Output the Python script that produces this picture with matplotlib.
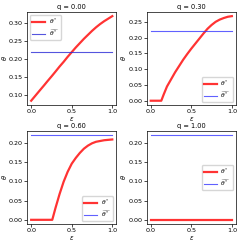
import numpy as np
import matplotlib
matplotlib.use('Agg')
import matplotlib.pyplot as plt

# values
eps = np.array([0.0, 0.1, 0.13, 0.16, 0.2, 0.26, 0.3, 0.35, 0.4, 0.45, 0.5,
                0.55, 0.6, 0.65, 0.7, 0.75, 0.8, 0.85, 0.9, 0.95, 1.0])
q_values = [0.00, 0.30, 0.60, 1.00]
theta_q0 = np.array([0.085, 0.112, 0.120, 0.128, 0.139, 0.155, 0.166, 0.180, 0.193, 0.207, 0.220,
                     0.233, 0.245, 0.257, 0.268, 0.279, 0.289, 0.298, 0.306, 0.313, 0.320])
theta_q3 = np.array([0.0, 0.0, 0.0, 0.020, 0.045, 0.072, 0.090, 0.110, 0.130, 0.148, 0.165,
                     0.181, 0.197, 0.213, 0.228, 0.240, 0.250, 0.257, 0.262, 0.266, 0.268])
theta_q6 = np.array([0.0, 0.0, 0.0, 0.0, 0.0, 0.0, 0.031, 0.067, 0.099, 0.125, 0.146,
                     0.161, 0.174, 0.185, 0.193, 0.199, 0.203, 0.205, 0.207, 0.208, 0.209])
theta_q10 = np.zeros(len(eps))
theta_hat = 0.22

curves = [theta_q0, theta_q3, theta_q6, theta_q10]
legend_loc = ['upper left', 'lower right', 'lower right', 'center right']

plt.rcParams['font.size'] = 4.6
fig, axes = plt.subplots(2, 2, figsize=(2.4, 2.43), dpi=100)
fig.subplots_adjust(left=0.113, right=0.983, top=0.951, bottom=0.078,
                    wspace=0.34, hspace=0.28)

for i, ax in enumerate(axes.flat):
    ax.plot(eps, curves[i], color='red', lw=1.6, alpha=0.8, label=r'$\theta^*$')
    hat_color = '#2b2bd6' if i == 0 else '#3a3aff'
    ax.plot([0, 1], [theta_hat, theta_hat], color=hat_color, lw=0.8, alpha=0.8,
            label=r'$\widehat{\theta^*}$')
    ax.set_title('q = %.2f' % q_values[i], fontsize=4.8, pad=2)
    ax.set_xlabel(r'$\epsilon$', fontsize=4.8, labelpad=0.5)
    ax.set_ylabel(r'$\theta$', fontsize=4.8, labelpad=0)
    ax.set_xticks([0.0, 0.5, 1.0])
    ax.tick_params(labelsize=4.6, length=2, pad=1, width=0.5)
    for s in ax.spines.values():
        s.set_linewidth(0.5)
    ax.legend(loc=legend_loc[i], fontsize=4.3, handlelength=2.2, borderpad=0.3,
              labelspacing=0.2, handletextpad=0.6, framealpha=0.8)

axes[0, 0].set_yticks([0.10, 0.15, 0.20, 0.25, 0.30])
axes[0, 1].set_yticks([0.00, 0.05, 0.10, 0.15, 0.20, 0.25])
for ax in [axes[1, 0], axes[1, 1]]:
    ax.set_yticks([0.00, 0.05, 0.10, 0.15, 0.20])

fig.savefig('out.png', dpi=100)
